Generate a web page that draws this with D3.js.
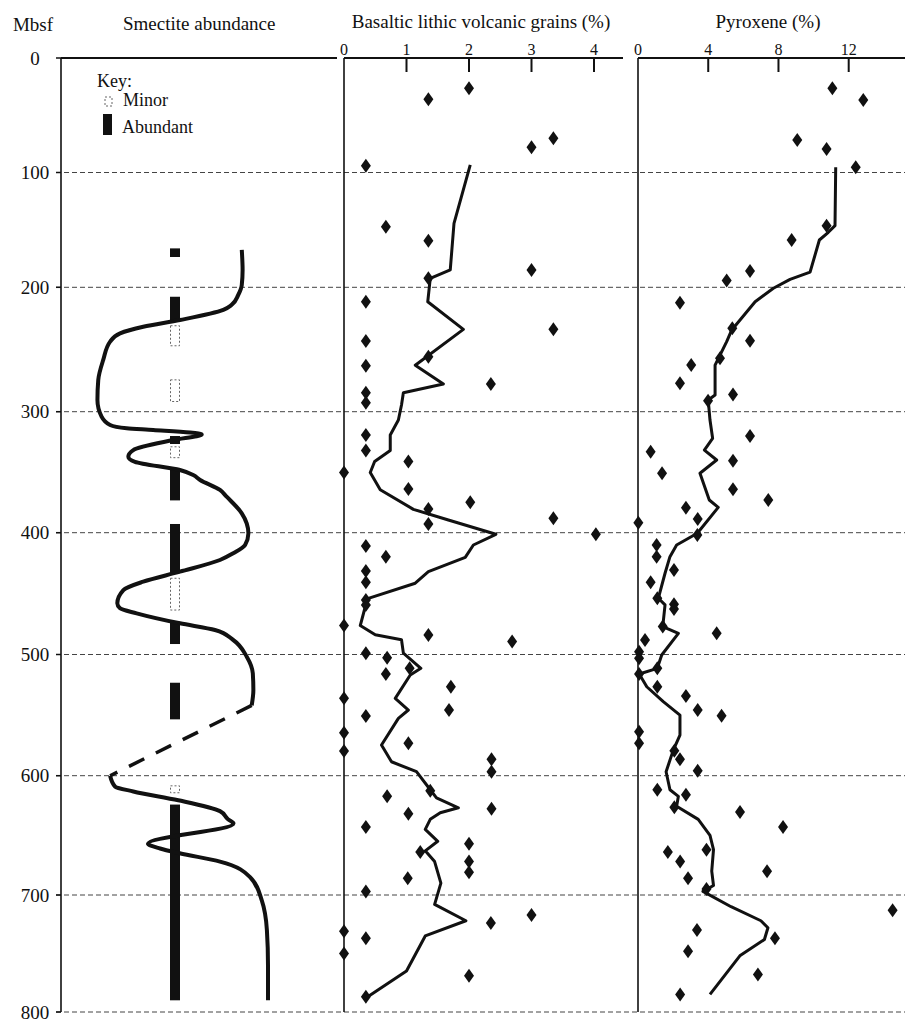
<!DOCTYPE html>
<html>
<head>
<meta charset="utf-8">
<script src="https://cdn.jsdelivr.net/npm/d3@7"></script>
<style>
  body { margin: 0; background: #fff; }
  svg text { font-family: "Liberation Serif", "Times New Roman", serif; fill: #111; }
</style>
</head>
<body>
<script>
// depth ticks (metres below sea floor) and the top axis ticks
var depthTicks = [0, 100, 200, 300, 400, 500, 600, 700, 800];
var basaltTicks = [0, 1, 2, 3, 4];
var pyroxTicks = [0, 4, 8, 12];

// smectite abundance curve, [depth, relative abundance 0-100]
var smectiteUpper = [
  [167.5, 65.5], [184.9, 65.8], [198, 65.5], [206.2, 64.2], [214.2, 61.8], [218.2, 58.8],
  [226.3, 43.1], [231.7, 29.8], [237, 21.4], [243.7, 17.8], [258.4, 15.3], [274.5, 13.5],
  [290.6, 13.2], [304.1, 14.7], [311, 17.8], [313.7, 23.8], [315.1, 33.4], [318.8, 51.0],
  [323.4, 40.7], [331.7, 26.2], [337.2, 24.4], [341.4, 26.8], [348.2, 43.1], [352.3, 47.9],
  [356.4, 50.4], [364.7, 57.6], [370.2, 60.0], [384, 65.5], [400.5, 67.9], [410.1, 66.7],
  [416.9, 62.4], [422.4, 57.6], [432, 43.1], [440.2, 29.8], [447.1, 22.6], [458, 20.4],
  [462.1, 21.4], [466.2, 27.4], [474.4, 43.1], [479.9, 55.8], [488.1, 62.4], [501.8, 67.3],
  [515.5, 69.5], [529.3, 69.7], [542, 69.1]
];
var smectiteGap = [[542, 69.1], [600, 17.8]];
var smectiteLower = [
  [600, 17.8], [609.1, 19.6], [613.2, 26.2], [620.6, 42.5], [629.7, 57.6], [636.5, 60.5],
  [640, 62.5], [657, 31.5], [661, 35.9], [665, 43], [672, 57.6], [685, 68.5],
  [705, 72.8], [730, 74.6], [760, 75], [790, 75]
];

// smectite intervals [top, bottom]
var abundantIntervals = [
  [166.1, 173.6], [207.6, 226.3], [320.1, 326.7], [346.5, 373.3], [392.8, 433.3],
  [473.1, 491.4], [523.3, 553.5], [624.2, 790]
];
var minorIntervals = [
  [230.9, 247], [274.4, 291.8], [329, 338], [437.4, 463.5], [608.5, 614.3]
];

// basaltic lithic volcanic grains (%), [depth, value]
var basaltSamples = [
  [26.5, 2.0], [36.1, 1.35], [70.1, 3.35], [78.0, 3.0], [94.1, 0.35], [147.2, 0.67],
  [159.4, 1.35], [184.9, 3.0], [192.2, 1.35], [211.6, 0.35], [233.8, 3.35], [243.2, 0.35],
  [255.8, 1.35], [263.0, 0.35], [277.7, 2.35], [284.7, 0.35], [292.8, 0.35], [319.3, 0.35],
  [332.0, 0.35], [341.2, 1.03], [350.2, 0.0], [363.9, 1.03], [374.9, 2.02], [380.4, 1.35],
  [388.1, 3.35], [392.8, 1.35], [401.3, 4.03], [410.9, 0.35], [419.7, 0.67], [431.4, 0.35],
  [440.7, 0.35], [455.3, 0.35], [459.4, 0.35], [476.2, 0.0], [483.9, 1.35], [489.4, 2.69],
  [499.0, 0.35], [502.6, 0.69], [511.4, 1.05], [516.1, 0.67], [526.6, 1.71], [536.1, 0.0],
  [545.8, 1.68], [550.7, 0.35], [564.5, 0.0], [573.3, 1.03], [579.6, 0.0], [586.5, 2.36],
  [596.7, 2.36], [612.6, 1.38], [617.3, 0.69], [627.7, 2.36], [631.8, 1.03],
  [643, 0.35], [657, 2.0], [664, 1.22], [672, 2.0], [681, 2.0], [686, 1.02], [697, 0.35],
  [717, 3.0], [724, 2.35], [731, 0.0], [737, 0.35], [750, 0.0], [769, 2.0], [787, 0.35]
];
var basaltTrend = [
  [93.4, 2.02], [144.3, 1.76], [184.9, 1.70], [192.2, 1.38], [211.6, 1.34], [233.8, 1.91],
  [262.6, 1.14], [277.7, 1.59], [284.7, 0.95], [294.6, 0.92], [306.9, 0.87], [319.3, 0.74],
  [332.0, 0.74], [341.2, 0.49], [350.2, 0.42], [364.5, 0.58], [380.7, 1.11], [389.5, 1.67],
  [401.3, 2.43], [410.1, 2.07], [420.2, 1.94], [432.0, 1.35], [441.5, 1.14], [453.9, 0.39],
  [460.8, 0.34], [476.2, 0.26], [483.8, 0.50], [487.9, 0.92], [498.9, 0.95], [511.4, 1.23],
  [516.9, 1.06], [536.2, 0.82], [545.8, 1.03], [552.7, 0.87], [574.7, 0.60], [588.5, 0.76],
  [596.7, 1.16], [611.8, 1.38], [618.6, 1.48], [626.9, 1.83], [631.0, 1.54], [636.6, 1.38],
  [645, 1.3], [655, 1.5], [663, 1.3], [672, 1.45], [690, 1.55], [708, 1.45], [722, 1.95],
  [735, 1.3], [765, 1.0], [788, 0.35]
];

// pyroxene (%), [depth, value]
var pyroxSamples = [
  [26.5, 11.07], [36.7, 12.83], [71.6, 9.07], [79.5, 10.74], [95.5, 12.40], [146.3, 10.74],
  [158.8, 8.75], [185.9, 6.38], [194.0, 5.05], [212.4, 2.39], [233.0, 5.37], [243.0, 6.38],
  [257.1, 4.67], [262.5, 3.03], [277.2, 2.39], [286.1, 5.41], [291.2, 3.99], [320.1, 6.38],
  [333.1, 0.72], [340.5, 5.41], [350.9, 1.37], [364.1, 5.41], [373.0, 7.42], [379.3, 2.73],
  [388.7, 3.40], [391.7, 0.02], [401.9, 3.38], [410.1, 1.06], [419.7, 1.06], [430.6, 2.05],
  [440.7, 0.72], [453.8, 1.10], [458.8, 2.05], [462.6, 2.05], [477.1, 1.41], [482.6, 4.48],
  [488.1, 0.40], [497.7, 0.06], [503.1, 0.06], [511.4, 1.10], [516.1, 0.06], [526.6, 1.10],
  [534.2, 2.73], [545.8, 3.40], [550.5, 4.76], [563.7, 0.06], [573.3, 0.06], [579.4, 2.07],
  [586.5, 2.39], [595.9, 3.40], [611.8, 1.10], [615.9, 2.73], [626.4, 2.07], [630.5, 5.81],
  [643, 8.26], [662, 3.9], [664, 1.7], [672, 2.4], [680, 7.35], [686, 2.85], [695, 3.9],
  [713, 14.5], [730, 3.36], [737, 7.8], [748, 2.85], [768, 6.83], [785, 2.4]
];
var pyroxTrend = [
  [95.5, 11.26], [146.3, 11.22], [152.1, 10.84], [158.8, 10.33], [186.8, 9.80], [193.1, 8.66],
  [200.8, 7.71], [211.6, 6.67], [234.3, 5.34], [243.7, 5.05], [262.5, 4.39], [286.6, 4.39],
  [290.6, 4.00], [306.9, 4.10], [322.0, 4.25], [331.7, 3.78], [339.9, 4.48], [350.9, 3.53],
  [373.0, 4.06], [379.1, 4.57], [400.5, 3.38], [410.1, 2.20], [419.7, 1.82], [433.3, 1.54],
  [453.8, 1.16], [459.3, 1.54], [477.1, 1.41], [482.6, 2.30], [500.4, 1.35], [511.4, 1.10],
  [516.1, 0.07], [526.6, 0.50], [538.9, 1.44], [550.0, 2.39], [566.5, 2.39], [578.9, 2.01],
  [596.7, 1.60], [611.8, 1.82], [617.3, 2.30], [625.6, 2.20], [636.6, 3.43], [650, 4.1],
  [662, 4.3], [680, 4.2], [692, 4.3], [697, 3.7], [710, 5.3], [722, 7.0], [728, 7.4],
  [738, 7.2], [752, 5.8], [785, 4.1]
];

window.onload = start;

function start() {
    var width = 905;
    var height = 1026;

    var svg = d3.select("body").append("svg")
        .attr("width", width)
        .attr("height", height);

    // the scanned figure is not quite evenly spaced, so the depth scale is piecewise
    var y = d3.scaleLinear()
        .domain(depthTicks)
        .range([58, 172.5, 287.3, 411.7, 532.7, 654.5, 775.7, 895, 1012]);

    var xSmec = d3.scaleLinear().domain([0, 100]).range([61, 337]);
    var xBasalt = d3.scaleLinear().domain([0, 4]).range([344, 594]);
    var xPyrox = d3.scaleLinear().domain([0, 12]).range([638, 848.7]);

    var top = y(0), bottom = y(800);

    // dashed depth grid across all panels
    svg.selectAll(".grid")
        .data(depthTicks.slice(1))
        .enter().append("line")
        .attr("x1", 56).attr("x2", width)
        .attr("y1", function(d) { return y(d); })
        .attr("y2", function(d) { return y(d); })
        .attr("stroke", "#444")
        .attr("stroke-width", 1)
        .attr("stroke-dasharray", "5,3");

    // depth labels
    svg.selectAll(".ylab")
        .data(depthTicks)
        .enter().append("text")
        .attr("x", 35)
        .attr("y", function(d) { return y(d); })
        .attr("dy", "0.35em")
        .attr("text-anchor", "middle")
        .style("font-size", "19px")
        .text(function(d) { return d; });

    // left axis with small ticks
    svg.append("line")
        .attr("x1", 61).attr("x2", 61).attr("y1", top).attr("y2", bottom)
        .attr("stroke", "#111").attr("stroke-width", 1.6);
    svg.selectAll(".ytick")
        .data(depthTicks)
        .enter().append("line")
        .attr("x1", 56).attr("x2", 61)
        .attr("y1", function(d) { return y(d); })
        .attr("y2", function(d) { return y(d); })
        .attr("stroke", "#111").attr("stroke-width", 1.5);

    // top axis lines of the three panels
    var panels = [[61, 337], [344, 623], [638, width]];
    svg.selectAll(".topline")
        .data(panels)
        .enter().append("line")
        .attr("x1", function(d) { return d[0]; })
        .attr("x2", function(d) { return d[1]; })
        .attr("y1", top).attr("y2", top)
        .attr("stroke", "#111").attr("stroke-width", 2.2);

    // vertical axes of the two percent panels
    [xBasalt(0), xPyrox(0)].forEach(function(px) {
        svg.append("line")
            .attr("x1", px).attr("x2", px).attr("y1", top).attr("y2", bottom)
            .attr("stroke", "#111").attr("stroke-width", 1.6);
    });

    drawTopTicks(svg, xBasalt, basaltTicks, top);
    drawTopTicks(svg, xPyrox, pyroxTicks, top);

    // titles
    var titles = [
        {t: "Mbsf", x: 33, y: 31, a: "middle"},
        {t: "Smectite abundance", x: 123, y: 30, a: "start"},
        {t: "Basaltic lithic volcanic grains (%)", x: 481, y: 28, a: "middle"},
        {t: "Pyroxene (%)", x: 768, y: 28, a: "middle"}
    ];
    svg.selectAll(".title")
        .data(titles)
        .enter().append("text")
        .attr("x", function(d) { return d.x; })
        .attr("y", function(d) { return d.y; })
        .attr("text-anchor", function(d) { return d.a; })
        .style("font-size", "19px")
        .text(function(d) { return d.t; });

    // smectite intervals
    var barX = 170, barW = 10;
    svg.selectAll(".abundant")
        .data(abundantIntervals)
        .enter().append("rect")
        .attr("x", barX)
        .attr("width", barW)
        .attr("y", function(d) { return y(d[0]); })
        .attr("height", function(d) { return y(d[1]) - y(d[0]); })
        .attr("fill", "#111");
    svg.selectAll(".minor")
        .data(minorIntervals)
        .enter().append("rect")
        .attr("x", barX + 0.5)
        .attr("width", barW - 1)
        .attr("y", function(d) { return y(d[0]); })
        .attr("height", function(d) { return y(d[1]) - y(d[0]); })
        .attr("fill", "none")
        .attr("stroke", "#666")
        .attr("stroke-width", 1)
        .attr("stroke-dasharray", "2,2");

    // smectite curve
    var smecLine = d3.line()
        .x(function(d) { return xSmec(d[1]); })
        .y(function(d) { return y(d[0]); })
        .curve(d3.curveMonotoneY);
    [smectiteUpper, smectiteLower].forEach(function(part) {
        svg.append("path")
            .attr("d", smecLine(part))
            .attr("fill", "none")
            .attr("stroke", "#111")
            .attr("stroke-width", 4)
            .attr("stroke-linejoin", "round");
    });
    svg.append("path")
        .attr("d", d3.line()
            .x(function(d) { return xSmec(d[1]); })
            .y(function(d) { return y(d[0]); })(smectiteGap))
        .attr("fill", "none")
        .attr("stroke", "#111")
        .attr("stroke-width", 3.5)
        .attr("stroke-dasharray", "17,13");

    drawSeries(svg, xBasalt, y, basaltTrend, basaltSamples);
    drawSeries(svg, xPyrox, y, pyroxTrend, pyroxSamples);

    // key
    svg.append("text").attr("x", 97).attr("y", 87).style("font-size", "18px").text("Key:");
    svg.append("rect")
        .attr("x", 105).attr("y", 97).attr("width", 7).attr("height", 9)
        .attr("fill", "none").attr("stroke", "#666").attr("stroke-width", 1)
        .attr("stroke-dasharray", "2,2");
    svg.append("text").attr("x", 123).attr("y", 106).style("font-size", "18px").text("Minor");
    svg.append("rect")
        .attr("x", 103).attr("y", 114).attr("width", 9).attr("height", 21)
        .attr("fill", "#111");
    svg.append("text").attr("x", 122).attr("y", 133).style("font-size", "18px").text("Abundant");
}

// inward ticks and numbers along the top of a percent panel
function drawTopTicks(svg, x, ticks, top) {
    svg.selectAll(null)
        .data(ticks.slice(1))
        .enter().append("line")
        .attr("x1", function(d) { return x(d); })
        .attr("x2", function(d) { return x(d); })
        .attr("y1", top).attr("y2", top + 14)
        .attr("stroke", "#111").attr("stroke-width", 2);
    svg.selectAll(null)
        .data(ticks)
        .enter().append("text")
        .attr("x", function(d) { return x(d); })
        .attr("y", top - 3)
        .attr("text-anchor", "middle")
        .style("font-size", "16px")
        .text(function(d) { return d; });
}

// running trend line plus diamond sample markers
function drawSeries(svg, x, y, trend, samples) {
    var line = d3.line()
        .x(function(d) { return x(d[1]); })
        .y(function(d) { return y(d[0]); });
    svg.append("path")
        .attr("d", line(trend))
        .attr("fill", "none")
        .attr("stroke", "#111")
        .attr("stroke-width", 3)
        .attr("stroke-linejoin", "round");
    svg.selectAll(null)
        .data(samples)
        .enter().append("path")
        .attr("d", "M0,-7L5,0L0,7L-5,0Z")
        .attr("transform", function(d) { return "translate(" + x(d[1]) + "," + y(d[0]) + ")"; })
        .attr("fill", "#111");
}
</script>
</body>
</html>
